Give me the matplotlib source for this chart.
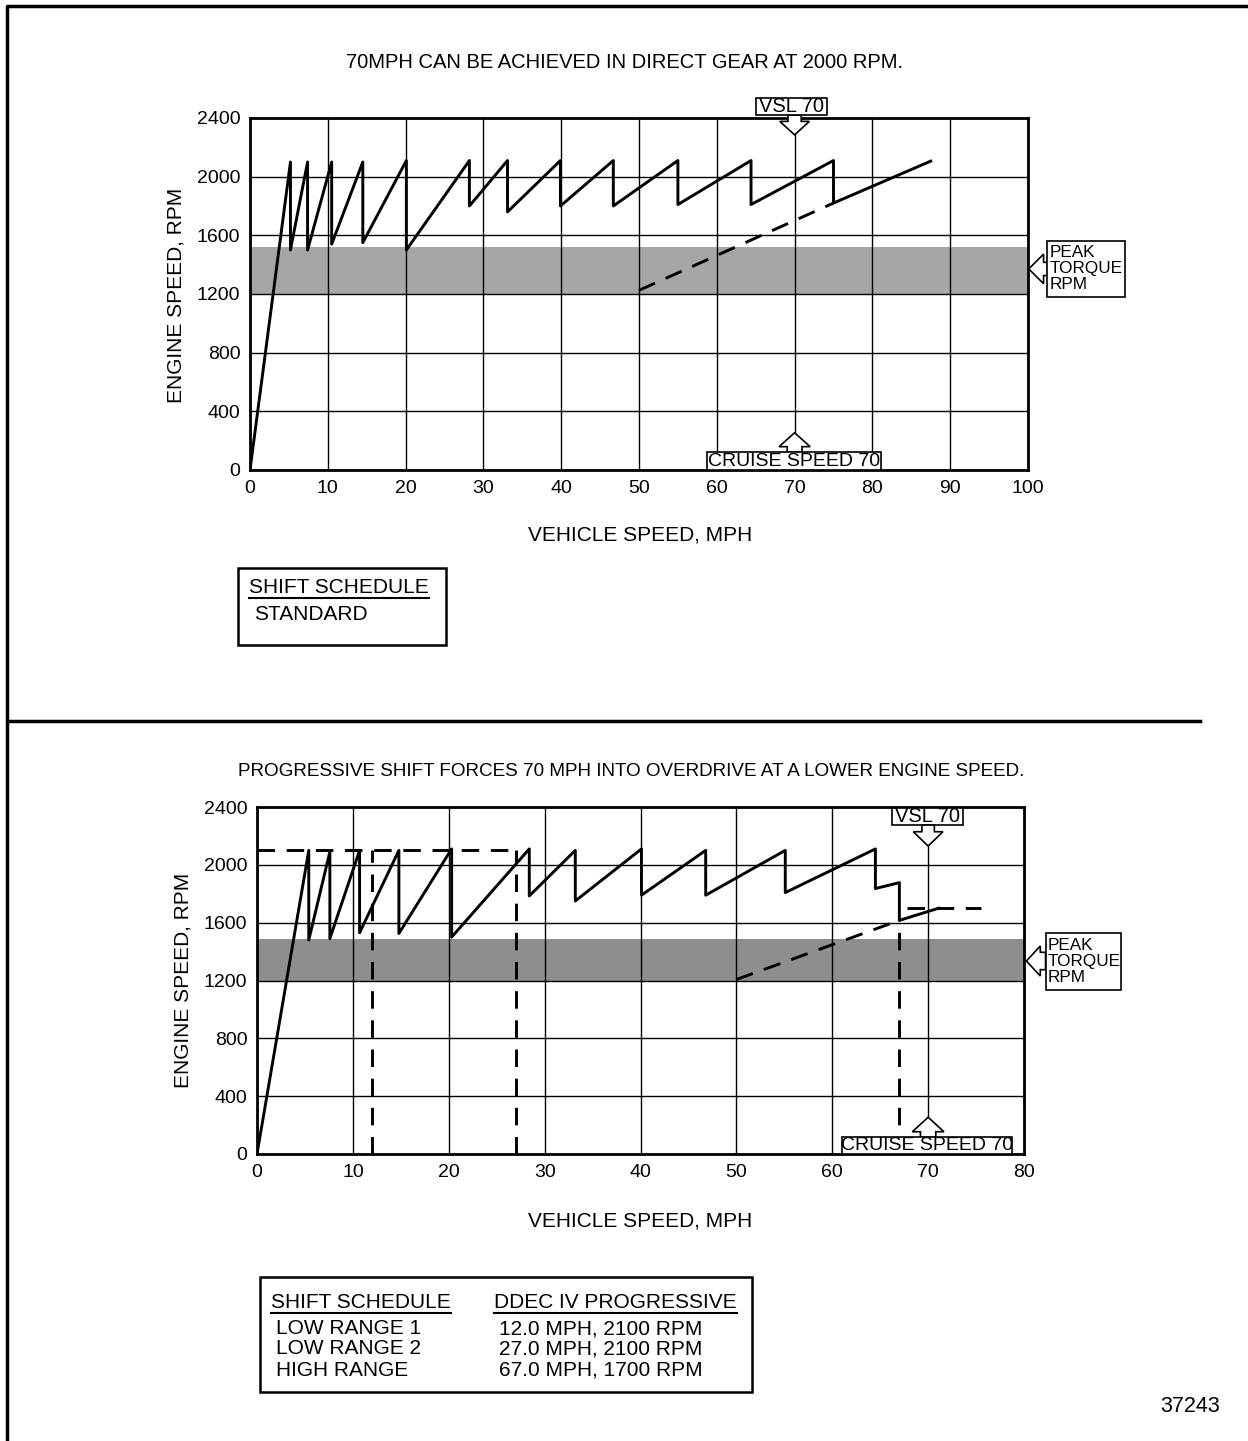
import matplotlib
matplotlib.use('Agg')
import matplotlib.pyplot as plt
from matplotlib.patches import Polygon, Rectangle
from matplotlib.lines import Line2D

plt.rcParams['font.family'] = ['Liberation Sans', 'DejaVu Sans']

# standard shift schedule (top chart)
std_mph = [0, 5.2, 5.2, 7.4, 7.4, 10.5, 10.5, 14.5, 14.5, 20.1, 20.1, 28.2, 28.2,
           33.1, 33.1, 39.9, 39.9, 46.7, 46.7, 55.0, 55.0, 64.4, 64.4, 75.0, 75.0, 87.5]
std_rpm = [0, 2100, 1500, 2100, 1500, 2100, 1540, 2100, 1550, 2110, 1500, 2110, 1800,
           2110, 1760, 2110, 1800, 2110, 1800, 2110, 1810, 2110, 1810, 2110, 1820, 2106]
std_dash_mph = [50, 75.0]
std_dash_rpm = [1225, 1820]

# progressive shift schedule (bottom chart)
prog_mph = [0, 5.4, 5.4, 7.6, 7.6, 10.7, 10.7, 14.8, 14.8, 20.3, 20.3, 28.4, 28.4,
            33.2, 33.2, 40.1, 40.1, 46.8, 46.8, 55.1, 55.1, 64.5, 64.5, 67.0, 67.0, 71.1]
prog_rpm = [0, 2100, 1480, 2090, 1490, 2100, 1530, 2100, 1525, 2110, 1500, 2110, 1785,
            2100, 1750, 2110, 1790, 2100, 1790, 2100, 1808, 2110, 1836, 1877, 1616, 1700]
prog_dash_mph = [50, 67.0]
prog_dash_rpm = [1207, 1616]
lr_limit_mph = [0, 27]          # dashed limit line at 2100 rpm
lr_limit_rpm = [2100, 2100]
hr_limit_mph = [67.8, 75.5]     # dashed limit line at 1700 rpm
hr_limit_rpm = [1700, 1700]
shift_mph = [12.0, 27.0, 67.0]
shift_rpm = [2100, 2100, 1616]

peak_torque = (1200, 1520)
peak_torque2 = (1200, 1490)

rows = ['LOW RANGE 1', 'LOW RANGE 2', 'HIGH RANGE']
vals = ['12.0 MPH, 2100 RPM', '27.0 MPH, 2100 RPM', '67.0 MPH, 1700 RPM']

W, H = 1248, 1441
fig = plt.figure(figsize=(W / 100, H / 100), dpi=100)


def fx(px):
    return px / W


def fy(py):
    return 1 - py / H


def setup(ax, xmax, xstep):
    ax.set_xlim(0, xmax)
    ax.set_ylim(0, 2400)
    ax.set_xticks(range(0, xmax + 1, xstep))
    ax.set_yticks(range(0, 2401, 400))
    ax.tick_params(length=0, pad=7, labelsize=14)
    ax.grid(True, color='black', lw=1.0)
    ax.set_axisbelow(True)
    for s in ax.spines.values():
        s.set_linewidth(2.0)
        s.set_zorder(4)


def poly(ax, pts):
    ax.add_patch(Polygon(pts, closed=True, fc='white', ec='black', lw=1.2,
                         zorder=6, clip_on=False))


def box(ax, x0, x1, y0, y1, text, fs=14, ha='center', ls=1.0):
    ax.add_patch(Rectangle((x0, y0), x1 - x0, y1 - y0, fc='white', ec='black',
                           lw=1.2, zorder=6, clip_on=False))
    if ha == 'center':
        ax.text((x0 + x1) / 2, (y0 + y1) / 2, text, ha='center', va='center',
                fontsize=fs, zorder=7, linespacing=ls)
    else:
        ax.text(x0 + (x1 - x0) * 0.03, (y0 + y1) / 2, text, ha='left', va='center',
                fontsize=fs, zorder=7, linespacing=ls)


def down_arrow(ax, x, top, wing, tip, hs, hw):
    poly(ax, [(x - hs, top), (x - hs, wing), (x - hw, wing), (x, tip),
              (x + hw, wing), (x + hs, wing), (x + hs, top)])


def up_arrow(ax, x, bot, wing, tip, hs, hw):
    poly(ax, [(x - hs, bot), (x - hs, wing), (x - hw, wing), (x, tip),
              (x + hw, wing), (x + hs, wing), (x + hs, bot)])


def left_arrow(ax, y, right, wing, tip, hs, hw):
    poly(ax, [(right, y + hs), (wing, y + hs), (wing, y + hw), (tip, y),
              (wing, y - hw), (wing, y - hs), (right, y - hs)])


# ---------------- top chart
ax1 = fig.add_axes([fx(250), fy(470), fx(1028 - 250), (470 - 118) / H])
setup(ax1, 100, 10)
ax1.axhspan(peak_torque[0], peak_torque[1], color='#a6a6a6', zorder=0.3, lw=0)
ax1.plot(std_mph, std_rpm, color='black', lw=2.1, zorder=3)
ax1.plot(std_dash_mph, std_dash_rpm, color='black', lw=2.1, ls=(0, (6, 4)), zorder=3)

down_arrow(ax1, 70, 2420, 2377, 2285, 0.85, 1.9)
box(ax1, 65.0, 74.2, 2420, 2539, 'VSL 70', fs=14.5)
up_arrow(ax1, 70, 121, 159, 254, 0.95, 2.0)
box(ax1, 58.8, 81.1, 0, 121, 'CRUISE SPEED 70')
left_arrow(ax1, 1371, 102.5, 102.0, 100.1, 45, 101)
box(ax1, 102.5, 112.5, 1180, 1562, 'PEAK\nTORQUE\nRPM', fs=12.3, ha='left', ls=1.08)

fig.text(fx(625), fy(63), '70MPH CAN BE ACHIEVED IN DIRECT GEAR AT 2000 RPM.',
         ha='center', va='center', fontsize=14.5)
fig.text(fx(640), fy(535), 'VEHICLE SPEED, MPH', ha='center', va='center', fontsize=15)
fig.text(fx(176), fy(295), 'ENGINE SPEED, RPM', ha='center', va='center',
         fontsize=15, rotation=90)

# ---------------- bottom chart
ax2 = fig.add_axes([fx(257), fy(1154), fx(1024 - 257), (1154 - 807) / H])
setup(ax2, 80, 10)
ax2.axhspan(peak_torque2[0], peak_torque2[1], color='#8e8e8e', zorder=0.3, lw=0)
ax2.plot(prog_mph, prog_rpm, color='black', lw=2.1, zorder=3)
dash = (0, (6, 4))
ax2.plot(prog_dash_mph, prog_dash_rpm, color='black', lw=2.1, ls=dash, zorder=3)
ax2.plot(lr_limit_mph, lr_limit_rpm, color='black', lw=2.1, ls=dash, zorder=3)
ax2.plot(hr_limit_mph, hr_limit_rpm, color='black', lw=2.1, ls=dash, zorder=3)
for m, r in zip(shift_mph, shift_rpm):
    ax2.plot([m, m], [0, r], color='black', lw=2.1, ls=dash, zorder=3)

box(ax2, 66.2, 73.6, 2275, 2393, 'VSL 70', fs=14.5)
down_arrow(ax2, 70, 2275, 2229, 2130, 0.65, 1.55)
up_arrow(ax2, 70, 115, 154, 254, 0.8, 1.65)
box(ax2, 61.0, 78.8, 0, 115, 'CRUISE SPEED 70')
left_arrow(ax2, 1335, 82.25, 81.7, 80.25, 60, 104)
box(ax2, 82.25, 90.1, 1134, 1528, 'PEAK\nTORQUE\nRPM', fs=12.3, ha='left', ls=1.08)

fig.text(fx(631), fy(771),
         'PROGRESSIVE SHIFT FORCES 70 MPH INTO OVERDRIVE AT A LOWER ENGINE SPEED.',
         ha='center', va='center', fontsize=13.6)
fig.text(fx(640), fy(1221), 'VEHICLE SPEED, MPH', ha='center', va='center', fontsize=15)
fig.text(fx(183), fy(980), 'ENGINE SPEED, RPM', ha='center', va='center',
         fontsize=15, rotation=90)

# ---------------- frame, separator, tables
fig.add_artist(Line2D([fx(7), fx(7), 1], [0, fy(6), fy(6)], color='black', lw=2.5))
fig.add_artist(Line2D([fx(8), fx(1200)], [fy(721), fy(721)], color='black', lw=2.5))

fig.add_artist(Rectangle((fx(238), fy(645)), fx(446 - 238), (645 - 568) / H,
                         fill=False, ec='black', lw=1.8))
fig.add_artist(Rectangle((fx(260), fy(1392)), fx(752 - 260), (1392 - 1277) / H,
                         fill=False, ec='black', lw=1.8))

heads = [fig.text(fx(249), fy(588), 'SHIFT SCHEDULE', va='center', fontsize=15),
         fig.text(fx(271), fy(1302), 'SHIFT SCHEDULE', va='center', fontsize=15),
         fig.text(fx(494), fy(1302), 'DDEC IV PROGRESSIVE', va='center', fontsize=15)]
fig.text(fx(254), fy(615), 'STANDARD', va='center', fontsize=15)
for i, (r, v) in enumerate(zip(rows, vals)):
    y = [1329, 1349, 1370][i]
    fig.text(fx(276), fy(y), r, va='center', fontsize=15)
    fig.text(fx(499), fy(y), v, va='center', fontsize=15)
fig.text(fx(1190), fy(1407), '37243', ha='center', va='center', fontsize=15.5)

# underline headings
fig.canvas.draw()
rend = fig.canvas.get_renderer()
for t in heads:
    bb = t.get_window_extent(rend)
    yl = bb.y0 - 1
    fig.add_artist(Line2D([bb.x0 / W, bb.x1 / W], [yl / H, yl / H], color='black', lw=1.5))

fig.savefig('out.png', dpi=100)
